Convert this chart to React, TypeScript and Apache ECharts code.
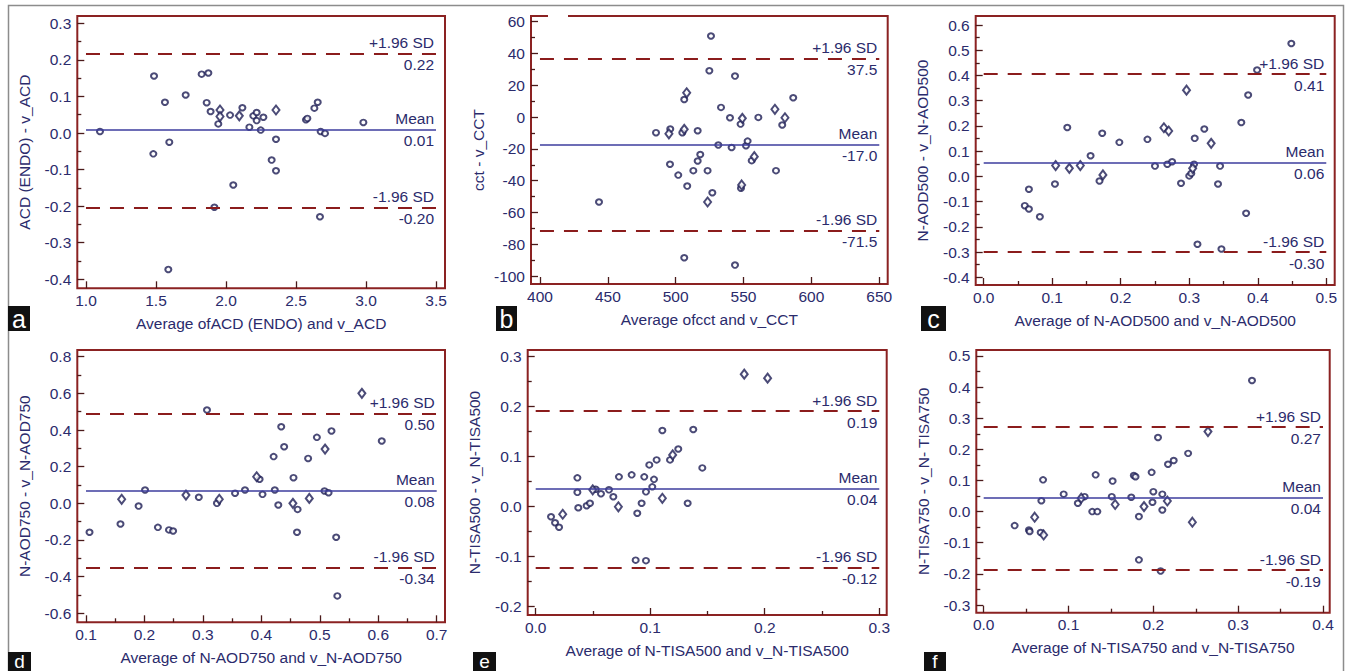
import React, { useEffect, useRef } from "react";
import * as echarts from "echarts";

// ---------- DATA ----------
const panelLetters = ["a", "b", "c", "d", "e", "f"];

const xAxisNames = [
  "Average ofACD (ENDO) and v_ACD",
  "Average ofcct and v_CCT",
  "Average of N-AOD500 and v_N-AOD500",
  "Average of N-AOD750 and v_N-AOD750",
  "Average of N-TISA500 and v_N-TISA500",
  "Average of N-TISA750 and v_N-TISA750",
];
const yAxisNames = [
  "ACD (ENDO) - v_ACD",
  "cct - v_CCT",
  "N-AOD500 - v_N-AOD500",
  "N-AOD750 - v_N-AOD750",
  "N-TISA500 - v_N-TISA500",
  "N-TISA750 - v_N- TISA750",
];

const aXTicks = [1.0, 1.5, 2.0, 2.5, 3.0, 3.5];
const aYTicks = [-0.4, -0.3, -0.2, -0.1, 0, 0.1, 0.2, 0.3];
const bXTicks = [400, 450, 500, 550, 600, 650];
const bYTicks = [-100, -80, -60, -40, -20, 0, 20, 40, 60];
const cXTicks = [0, 0.1, 0.2, 0.3, 0.4, 0.5];
const cYTicks = [-0.4, -0.3, -0.2, -0.1, 0, 0.1, 0.2, 0.3, 0.4, 0.5, 0.6];
const dXTicks = [0.1, 0.2, 0.3, 0.4, 0.5, 0.6, 0.7];
const dYTicks = [-0.6, -0.4, -0.2, 0, 0.2, 0.4, 0.6, 0.8];
const eXTicks = [0, 0.1, 0.2, 0.3];
const eYTicks = [-0.2, -0.1, 0, 0.1, 0.2, 0.3];
const fXTicks = [0, 0.1, 0.2, 0.3, 0.4];
const fYTicks = [-0.3, -0.2, -0.1, 0, 0.1, 0.2, 0.3, 0.4, 0.5];

const tickDecimals = [1, 0, 1, 1, 1, 1];
const xHasMinor = [false, false, true, true, true, true];

// limits of agreement: [upper, mean, lower]
const aLimits = [0.218, 0.009, -0.203];
const bLimits = [37.0, -17.5, -71.5];
const cLimits = [0.406, 0.055, -0.3];
const dLimits = [0.49, 0.068, -0.35];
const eLimits = [0.191, 0.035, -0.123];
const fLimits = [0.271, 0.045, -0.188];

const aLimitLabels = ["0.22", "0.01", "-0.20"];
const bLimitLabels = ["37.5", "-17.0", "-71.5"];
const cLimitLabels = ["0.41", "0.06", "-0.30"];
const dLimitLabels = ["0.50", "0.08", "-0.34"];
const eLimitLabels = ["0.19", "0.04", "-0.12"];
const fLimitLabels = ["0.27", "0.04", "-0.19"];
const limitTitles = ["+1.96 SD", "Mean", "-1.96 SD"];

const aCircles = [[1.10,0.004],[1.486,0.156],[1.481,-0.057],[1.564,0.084],[1.595,-0.025],[1.588,-0.373],[1.712,0.104],[1.826,0.161],[1.874,0.164],[1.862,0.083],[1.890,0.059],[1.945,0.025],[1.917,-0.203],[2.029,0.049],[2.052,-0.142],[2.117,0.069],[2.167,0.016],[2.195,0.047],[2.219,0.056],[2.219,0.034],[2.248,0.008],[2.267,0.043],[2.357,-0.017],[2.326,-0.074],[2.357,-0.103],[2.571,0.036],[2.581,0.04],[2.631,0.068],[2.655,0.084],[2.676,0.004],[2.707,-0.001],[2.671,-0.229],[2.981,0.029]];
const aDiamonds = [[1.957,0.063],[1.957,0.045],[2.095,0.047],[2.357,0.063]];

const bCircles = [[443.5,-53.4],[485.5,-9.8],[496.0,-7.5],[495.8,-29.7],[501.9,-36.5],[504.9,-9.8],[506.3,11.1],[506.3,-88.5],[508.5,-43.4],[513.0,-33.7],[516.2,-8.6],[516.2,-27.6],[518.1,-23.5],[523.5,-33.7],[524.8,29.2],[526.0,51.0],[527.0,-47.6],[531.4,-17.6],[533.4,6.1],[540.0,-0.4],[541.2,-19.1],[543.7,25.8],[543.7,-93.1],[547.8,-4.4],[548.1,-44.8],[551.8,-18.0],[553.0,-15.1],[556.0,-27.4],[560.9,-0.2],[573.9,-33.7],[578.5,-5.0],[586.6,12.2]];
const bDiamonds = [[495.0,-10.5],[506.3,-7.7],[508.1,15.3],[523.5,-53.4],[549.1,-0.8],[548.6,-42.7],[557.9,-24.9],[573.1,4.9],[580.5,-0.4]];

const cCircles = [[0.060,-0.116],[0.066,-0.051],[0.066,-0.129],[0.082,-0.160],[0.104,-0.030],[0.122,0.194],[0.156,0.082],[0.169,-0.018],[0.173,0.171],[0.198,0.135],[0.239,0.147],[0.250,0.041],[0.268,0.048],[0.275,0.058],[0.288,-0.027],[0.300,0.002],[0.303,0.012],[0.307,0.048],[0.308,0.151],[0.312,-0.269],[0.322,0.188],[0.342,-0.030],[0.345,0.041],[0.347,-0.288],[0.376,0.214],[0.383,-0.146],[0.386,0.323],[0.399,0.422],[0.449,0.527]];
const cDiamonds = [[0.105,0.043],[0.125,0.032],[0.141,0.043],[0.174,0.006],[0.263,0.193],[0.270,0.180],[0.296,0.342],[0.305,0.032],[0.332,0.131]];

const dCircles = [[0.106,-0.158],[0.159,-0.113],[0.190,-0.015],[0.201,0.073],[0.223,-0.131],[0.242,-0.145],[0.249,-0.151],[0.293,0.033],[0.307,0.509],[0.324,0.0],[0.355,0.055],[0.372,0.073],[0.397,0.131],[0.402,0.049],[0.421,0.255],[0.423,0.073],[0.429,-0.009],[0.434,0.418],[0.439,0.309],[0.455,0.14],[0.462,-0.033],[0.461,-0.158],[0.480,0.245],[0.495,0.36],[0.508,0.067],[0.515,0.058],[0.520,0.395],[0.528,-0.185],[0.530,-0.505],[0.606,0.340]];
const dDiamonds = [[0.161,0.022],[0.271,0.045],[0.328,0.022],[0.392,0.145],[0.454,0.0],[0.482,0.027],[0.509,0.296],[0.572,0.600]];

const eCircles = [[0.0134,-0.021],[0.0169,-0.033],[0.0204,-0.042],[0.0364,0.057],[0.0364,0.028],[0.0372,-0.003],[0.0445,0.001],[0.0474,0.006],[0.0524,0.034],[0.0570,0.025],[0.064,0.033],[0.0678,0.019],[0.0727,0.059],[0.0838,0.063],[0.0873,-0.108],[0.0887,-0.014],[0.0925,0.006],[0.0948,0.059],[0.0963,0.029],[0.0963,-0.109],[0.0992,0.083],[0.1018,0.039],[0.1033,0.054],[0.1056,0.093],[0.1106,0.152],[0.1173,0.093],[0.1245,0.115],[0.1327,0.006],[0.1376,0.154],[0.1455,0.077]];
const eDiamonds = [[0.0236,-0.016],[0.0498,0.033],[0.0722,-0.001],[0.1106,0.016],[0.1196,0.103],[0.1821,0.265],[0.2025,0.257]];

const fCircles = [[0.0365,-0.045],[0.0534,-0.059],[0.0542,-0.064],[0.0672,-0.067],[0.068,0.035],[0.070,0.102],[0.0943,0.056],[0.111,0.027],[0.119,0.048],[0.128,0.0],[0.134,0.0],[0.132,0.118],[0.151,0.048],[0.152,0.098],[0.174,0.046],[0.177,0.116],[0.179,0.112],[0.183,-0.016],[0.183,-0.155],[0.198,0.126],[0.199,0.030],[0.200,0.064],[0.2055,0.238],[0.2086,-0.191],[0.2106,0.056],[0.2106,0.005],[0.2173,0.152],[0.224,0.164],[0.241,0.187],[0.3163,0.421]];
const fDiamonds = [[0.0601,-0.018],[0.0707,-0.075],[0.115,0.043],[0.155,0.023],[0.189,0.016],[0.2165,0.034],[0.246,-0.034],[0.2644,0.257]];

// ---------- LAYOUT / STYLE ----------
const grids = [
  { left: 77.3, top: 16, width: 367.7, height: 272.3, xMin: 0.938, xMax: 3.564, yMin: -0.4246, yMax: 0.32 },
  { left: 531, top: 16, width: 356.7, height: 268, xMin: 393.4, xMax: 656.2, yMin: -105, yMax: 63.6 },
  { left: 975.7, top: 16, width: 359, height: 269, xMin: -0.01167, xMax: 0.5123, yMin: -0.4305, yMax: 0.636 },
  { left: 77.3, top: 350, width: 367.7, height: 272.3, xMin: 0.0851, xMax: 0.7142, yMin: -0.649, yMax: 0.8365 },
  { left: 527.7, top: 350, width: 359, height: 265, xMin: -0.00698, xMax: 0.3065, yMin: -0.218, yMax: 0.3134 },
  { left: 976.3, top: 350, width: 353.4, height: 262.7, xMin: -0.0087, xMax: 0.4079, yMin: -0.3247, yMax: 0.519 },
];
const letterBoxes = [
  { x: 8, y: 306, w: 22, h: 25, fs: 25 },
  { x: 496, y: 306, w: 21, h: 25, fs: 25 },
  { x: 921, y: 306, w: 25, h: 25, fs: 25 },
  { x: 8, y: 652, w: 23, h: 19, fs: 19 },
  { x: 473, y: 652, w: 23, h: 19, fs: 19 },
  { x: 924, y: 652, w: 22, h: 19, fs: 19 },
];

const FONT = "'Liberation Sans', Arial, sans-serif";
const TEXT = "#2b2b6c";
const TICK = "#4a1a1a";
const BORDER = "#8b2222";
const DASH = "#8b1c1c";
const MEAN = "#3d3d9e";
const MARK = "#1e1e55";
const FS = 15.5;

const xTicksAll = [aXTicks, bXTicks, cXTicks, dXTicks, eXTicks, fXTicks];
const yTicksAll = [aYTicks, bYTicks, cYTicks, dYTicks, eYTicks, fYTicks];
const limitsAll = [aLimits, bLimits, cLimits, dLimits, eLimits, fLimits];
const limitLabelsAll = [aLimitLabels, bLimitLabels, cLimitLabels, dLimitLabels, eLimitLabels, fLimitLabels];
const circlesAll = [aCircles, bCircles, cCircles, dCircles, eCircles, fCircles];
const diamondsAll = [aDiamonds, bDiamonds, cDiamonds, dDiamonds, eDiamonds, fDiamonds];

const midpoints = (t: number[]) => t.slice(1).map((v, i) => (v + t[i]) / 2);

function buildOption() {
  const grid: any[] = [];
  const xAxis: any[] = [];
  const yAxis: any[] = [];
  const series: any[] = [];
  const graphic: any[] = [];

  graphic.push({
    type: "rect",
    shape: { x: 8.5, y: 5.5, width: 1335, height: 700 },
    style: { fill: "none", stroke: "#8c8c8c", lineWidth: 1.5 },
    z: 100,
  });

  for (let i = 0; i < 6; i++) {
    const g = grids[i];
    const dec = tickDecimals[i];
    const xt = xTicksAll[i];
    const yt = yTicksAll[i];
    grid.push({
      left: g.left, top: g.top, width: g.width, height: g.height,
      show: true, borderColor: BORDER, borderWidth: 2, backgroundColor: "transparent",
    });
    const labelStyle = { color: TEXT, fontFamily: FONT, fontSize: FS };
    const noLine = { show: false, onZero: false };
    xAxis.push({
      type: "value", gridIndex: i, position: "bottom", min: g.xMin, max: g.xMax,
      axisLine: noLine, splitLine: { show: false },
      axisTick: { show: true, inside: true, length: 7, customValues: xt, lineStyle: { color: TICK, width: 1.3 } },
      axisLabel: { ...labelStyle, margin: 4, customValues: xt, formatter: (v: number) => v.toFixed(dec) },
      name: xAxisNames[i], nameLocation: "middle", nameGap: 27,
      nameTextStyle: { ...labelStyle },
    });
    xAxis.push({
      type: "value", gridIndex: i, position: "bottom", min: g.xMin, max: g.xMax,
      axisLine: noLine, splitLine: { show: false }, axisLabel: { show: false },
      axisTick: { show: xHasMinor[i], inside: true, length: 4, customValues: midpoints(xt), lineStyle: { color: TICK, width: 1.3 } },
    });
    yAxis.push({
      type: "value", gridIndex: i, position: "left", min: g.yMin, max: g.yMax,
      axisLine: noLine, splitLine: { show: false },
      axisTick: { show: true, inside: true, length: 7, customValues: yt, lineStyle: { color: TICK, width: 1.3 } },
      axisLabel: { ...labelStyle, margin: 6, customValues: yt, formatter: (v: number) => v.toFixed(dec) },
      name: yAxisNames[i], nameLocation: "middle", nameGap: 45,
      nameTextStyle: { ...labelStyle },
    });
    yAxis.push({
      type: "value", gridIndex: i, position: "left", min: g.yMin, max: g.yMax,
      axisLine: noLine, splitLine: { show: false }, axisLabel: { show: false },
      axisTick: { show: true, inside: true, length: 4, customValues: midpoints(yt), lineStyle: { color: TICK, width: 1.3 } },
    });

    const x0 = xt[0];
    const x1 = xt[xt.length - 1];
    const lim = limitsAll[i];
    const labs = limitLabelsAll[i];
    const mlData: any[] = [];
    lim.forEach((v, k) => {
      const ls = k === 1
        ? { color: MEAN, width: 1.5, type: "solid" }
        : { color: DASH, width: 2, type: [14, 10] };
      mlData.push([
        {
          coord: [x0, v], lineStyle: ls,
          label: {
            show: true, position: "insideEnd", distance: 2,
            formatter: "{t|" + limitTitles[k] + "}\n{v|" + labs[k] + "}",
            align: "right",
            rich: {
              t: { color: TEXT, fontFamily: FONT, fontSize: FS, lineHeight: 22, align: "right" },
              v: { color: TEXT, fontFamily: FONT, fontSize: FS, lineHeight: 22, align: "right" },
            },
          },
        },
        { coord: [x1, v] },
      ]);
    });

    series.push({
      type: "scatter", xAxisIndex: 2 * i, yAxisIndex: 2 * i,
      data: circlesAll[i], symbol: "emptyCircle", symbolSize: [6, 5.5],
      itemStyle: { color: MARK, borderColor: MARK, borderWidth: 1.3 },
      markLine: { silent: true, symbol: "none", animation: false, data: mlData },
      z: 3,
    });
    series.push({
      type: "scatter", xAxisIndex: 2 * i, yAxisIndex: 2 * i,
      data: diamondsAll[i], symbol: "emptyDiamond", symbolSize: [7, 9],
      itemStyle: { color: MARK, borderColor: MARK, borderWidth: 1.2 },
      z: 3,
    });

    const lb = letterBoxes[i];
    graphic.push({
      type: "rect", shape: { x: lb.x, y: lb.y, width: lb.w, height: lb.h },
      style: { fill: "#111111" }, z: 101,
    });
    graphic.push({
      type: "text", x: lb.x + lb.w / 2, y: lb.y + lb.h / 2, z: 102,
      style: { text: panelLetters[i], fill: "#ffffff", fontFamily: FONT, fontSize: lb.fs, align: "center", verticalAlign: "middle" },
    });
  }

  // small white patch artifact at top-left of panel b
  graphic.push({ type: "rect", shape: { x: 548, y: 14, width: 20, height: 23 }, style: { fill: "#ffffff" }, z: 50 });

  return { animation: false, backgroundColor: "#ffffff", grid, xAxis, yAxis, series, graphic };
}

export default function App() {
  const ref = useRef<HTMLDivElement>(null);
  useEffect(() => {
    if (!ref.current) return;
    const chart = echarts.init(ref.current, undefined, { renderer: "svg" });
    chart.setOption(buildOption() as any);
    return () => chart.dispose();
  }, []);
  return (
    <div
      ref={ref}
      style={{ position: "fixed", left: 0, top: 0, width: 1346, height: 671, background: "#fff" }}
    />
  );
}
